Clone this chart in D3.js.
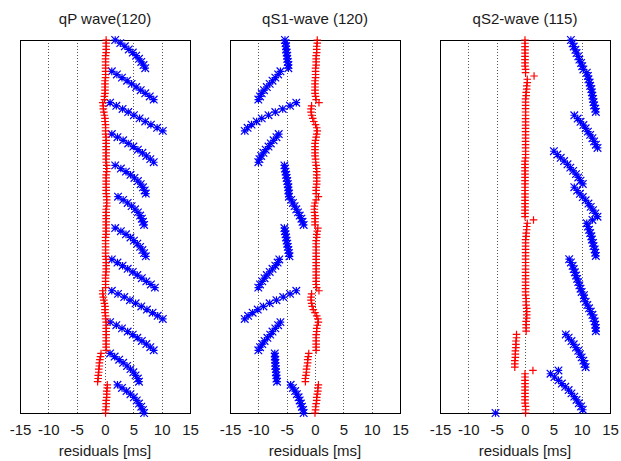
<!DOCTYPE html>
<html><head><meta charset="utf-8">
<script src="https://cdn.jsdelivr.net/npm/d3@7"></script>
<style>body{margin:0;background:#fff}svg{display:block}</style>
</head><body>
<svg id="c" width="621" height="461"></svg>
<script>
const xTicks = [-15, -10, -5, 0, 5, 10, 15];
const gridValues = [-10, -5, 0, 5, 10];
const panelTitles = ["qP wave(120)", "qS1-wave (120)", "qS2-wave (115)"];
const xLabel = "residuals [ms]";

const qpBlue = [
 1.8, 2.7, 3.5, 4.2, 4.9, 5.5, 6.0, 6.4, 6.8, 7.1,
 1.2, 2.1, 3.0, 3.9, 4.7, 5.5, 6.3, 7.1, 7.9, 8.6,
 0.9, 2.0, 3.1, 4.1, 5.1, 6.1, 7.1, 8.1, 9.2, 10.2,
 1.2, 2.2, 3.2, 4.1, 5.0, 5.8, 6.6, 7.3, 8.0, 8.6,
 1.8, 2.8, 3.7, 4.5, 5.2, 5.8, 6.3, 6.7, 7.0, 7.2,
 2.3, 3.2, 4.0, 4.7, 5.3, 5.8, 6.2, 6.5, 6.7, 6.9,
 1.8, 2.8, 3.7, 4.5, 5.1, 5.7, 6.2, 6.6, 6.9, 7.2,
 1.2, 2.2, 3.1, 4.0, 4.9, 5.7, 6.5, 7.3, 8.1, 8.8,
 1.2, 2.3, 3.4, 4.4, 5.4, 6.4, 7.4, 8.4, 9.3, 10.2,
 0.9, 2.0, 3.0, 4.0, 4.9, 5.7, 6.5, 7.3, 8.0, 8.6,
 0.9, 1.7, 2.5, 3.2, 3.9, 4.5, 5.0, 5.4, 5.8, 6.0,
 2.2, 3.0, 3.8, 4.5, 5.1, 5.6, 6.0, 6.4, 6.7, 6.9
];
const qpRed = [
 0.2, 0.2, 0.2, 0.2, 0.2, 0.1, 0.1, 0.1, 0.1, 0.1,
 0.1, 0.1, 0.1, 0.0, 0.0, 0.0, 0.0, 0.0, -0.1, -0.1,
 -0.4, -0.3, -0.3, -0.2, -0.1, 0.0, 0.0, 0.1, 0.1, 0.1,
 0.1, 0.2, 0.2, 0.2, 0.2, 0.2, 0.2, 0.2, 0.2, 0.2,
 0.3, 0.3, 0.3, 0.2, 0.2, 0.2, 0.2, 0.2, 0.2, 0.2,
 0.3, 0.3, 0.3, 0.3, 0.2, 0.2, 0.2, 0.2, 0.2, 0.2,
 0.2, 0.2, 0.2, 0.1, 0.1, 0.1, 0.1, 0.1, 0.1, 0.1,
 0.2, 0.2, 0.2, 0.2, 0.2, 0.1, 0.1, 0.1, 0.1, 0.1,
 -0.4, -0.4, -0.3, -0.2, -0.1, 0.0, 0.0, 0.0, 0.1, 0.1,
 0.2, 0.2, 0.2, 0.2, 0.2, 0.2, 0.2, 0.2, 0.2, 0.2,
 -0.7, -0.8, -0.9, -1.0, -1.0, -1.1, -1.1, -1.2, -1.2, -1.3,
 0.4, 0.4, 0.3, 0.3, 0.3, 0.2, 0.2, 0.2, 0.1, 0.1
];

const qs1Blue = [
 -5.3, -5.2, -5.1, -5.1, -5.0, -4.9, -4.9, -4.8, -4.7, -4.7,
 -6.1, -6.5, -7.0, -7.5, -8.0, -8.5, -9.0, -9.4, -9.7, -10.0,
 -3.3, -4.4, -5.7, -7.0, -8.2, -9.4, -10.3, -11.2, -11.9, -12.4,
 -6.4, -6.8, -7.3, -7.8, -8.2, -8.7, -9.1, -9.5, -9.8, -10.0,
 -5.4, -5.3, -5.2, -5.1, -5.0, -4.9, -4.8, -4.7, -4.7, -4.6,
 -4.6, -4.2, -3.9, -3.6, -3.3, -3.0, -2.7, -2.4, -2.2, -2.0,
 -5.4, -5.3, -5.2, -5.1, -5.0, -4.9, -4.8, -4.7, -4.6, -4.5,
 -6.3, -6.6, -7.0, -7.5, -8.0, -8.5, -8.9, -9.3, -9.7, -10.0,
 -3.3, -4.4, -5.6, -6.8, -8.0, -9.1, -10.1, -11.0, -11.8, -12.4,
 -6.1, -6.5, -7.0, -7.5, -7.9, -8.4, -8.9, -9.3, -9.7, -10.0,
 -7.1, -7.1, -7.0, -7.0, -7.0, -6.9, -6.9, -6.8, -6.8, -6.7,
 -4.3, -3.9, -3.5, -3.2, -2.9, -2.7, -2.5, -2.3, -2.1, -2.0
];
const qs1Red = [
 0.4, 0.4, 0.3, 0.3, 0.3, 0.2, 0.2, 0.2, 0.2, 0.1,
 0.1, 0.1, 0.1, 0.0, 0.0, 0.0, 0.0, 0.0, 0.1, 0.2,
 0.7, -0.6, -0.7, -0.7, -0.6, -0.4, -0.2, 0.1, 0.3, 0.4,
 0.3, 0.2, 0.1, 0.0, 0.0, 0.0, 0.0, 0.0, 0.1, 0.1,
 0.2, 0.3, 0.3, 0.3, 0.3, 0.3, 0.3, 0.2, 0.2, 0.2,
 0.6, 0.2, 0.0, -0.1, -0.1, -0.1, 0.0, 0.0, 0.0, 0.0,
 0.5, 0.4, 0.3, 0.3, 0.2, 0.2, 0.2, 0.2, 0.2, 0.2,
 0.2, 0.2, 0.2, 0.2, 0.2, 0.2, 0.2, 0.2, 0.2, 0.3,
 0.7, -0.6, -0.7, -0.7, -0.6, -0.5, -0.3, 0.0, 0.3, 0.5,
 0.6, 0.4, 0.3, 0.3, 0.2, 0.2, 0.2, 0.2, 0.2, 0.2,
 -1.1, -1.2, -1.3, -1.3, -1.4, -1.5, -1.5, -1.6, -1.7, -1.7,
 0.6, 0.5, 0.5, 0.4, 0.3, 0.3, 0.2, 0.1, 0.1, 0.0
];

const qs2Blue = [
 8.1, 8.4, 8.6, 8.9, 9.1, 9.4, 9.6, 9.9, 10.1, 10.3,
 10.9, 11.1, 11.2, 11.4, 11.5, 11.7, 11.8, 11.9, 12.0, 12.1, 12.2, 12.4, 12.5,
 8.7, 9.3, 9.8, 10.3, 10.7, 11.1, 11.5, 11.9, 12.2, 12.5, 12.8,
 5.1, 5.7, 6.3, 6.9, 7.5, 8.0, 8.5, 9.0, 9.4, 9.8, 10.2,
 8.7, 9.2, 9.7, 10.2, 10.7, 11.2, 11.6, 12.0, 12.4, 12.8, 11.9,
 10.9, 11.1, 11.3, 11.5, 11.7, 11.8, 12.0, 12.1, 12.3, 12.4, 12.5,
 7.8, 8.1, 8.4, 8.6, 8.8, 9.0, 9.2, 9.4, 9.6, 9.8, 10.0, 10.4,
 10.4, 10.7, 11.0, 11.3, 11.6, 11.9, 12.1, 12.3, 12.4, 12.5, 12.5,
 7.2, 7.7, 8.2, 8.6, 9.0, 9.4, 9.7, 10.0, 10.3, 10.5, 10.7,
 5.9,
 4.5, 5.2, 5.9, 6.5, 7.1, 7.7, 8.2, 8.7, 9.1, 9.5, 9.9, 10.2,
 -5.2
];
const qs2Red = [
 0.0, 0.0, 0.0, 0.0, 0.0, 0.0, 0.0, 0.0, 0.0, 0.1, 0.1,
 1.6,
 0.4, 0.4, 0.3, 0.3, 0.2, 0.2, 0.1, 0.1,
 0.1, 0.1, 0.1, 0.1, 0.1, 0.1, 0.1, 0.1, 0.1, 0.1,
 0.1, 0.1, 0.1, 0.1, 0.1, 0.1, 0.1, 0.0, 0.0, 0.0,
 0.0, 0.0, 0.0, 0.0, 0.0, 0.0, 0.0, 0.0, 0.0, 0.0,
 0.0, 0.0, 0.0, 0.0, 0.0,
 1.5,
 0.4, 0.3, 0.3, 0.2, 0.2, 0.1, 0.1, 0.1, 0.1, 0.1,
 0.1, 0.1, 0.1, 0.1, 0.1, 0.1, 0.1, 0.1, 0.1, 0.1,
 0.1, 0.1, 0.1, 0.2, 0.2, 0.2, 0.3, 0.3, 0.3, 0.3,
 0.2, 0.2, 0.2, 0.2,
 -1.5, -1.5, -1.6, -1.6, -1.6, -1.7, -1.7, -1.7, -1.8, -1.8, -1.8,
 1.4,
 0.0, 0.0, 0.0, 0.0, 0.0, 0.0, 0.0, 0.0, 0.0, 0.0, 0.1, 0.1, 0.1
];

const panels = [
  { title: panelTitles[0], blue: qpBlue, red: qpRed },
  { title: panelTitles[1], blue: qs1Blue, red: qs1Red },
  { title: panelTitles[2], blue: qs2Blue, red: qs2Red }
];

const svg = d3.select("#c");
const plotTop = 40, plotBottom = 413, plotW = 170, lefts = [20, 230, 440];
const textColor = "#1a1a1a";
const font = "'Liberation Sans', Arial, sans-serif";

panels.forEach((p, k) => {
  const left = lefts[k];
  const x = d3.scaleLinear().domain([-15, 15]).range([left, left + plotW]);
  const y = d3.scaleLinear().domain([1, p.red.length]).range([plotTop, plotBottom]);
  const g = svg.append("g");

  g.selectAll("line.grid").data(gridValues).join("line")
    .attr("class", "grid")
    .attr("x1", d => Math.round(x(d)) + 0.5).attr("x2", d => Math.round(x(d)) + 0.5)
    .attr("y1", plotTop).attr("y2", plotBottom)
    .attr("stroke", "#555").attr("stroke-width", 1).attr("stroke-dasharray", "1,2");

  g.append("rect")
    .attr("x", left + 0.5).attr("y", plotTop + 0.5)
    .attr("width", plotW).attr("height", plotBottom - plotTop)
    .attr("fill", "none").attr("stroke", "#000").attr("stroke-width", 1);

  const axis = d3.axisBottom(x).tickValues(xTicks).tickSize(0).tickPadding(11)
    .tickFormat(d3.format("d"));
  const ax = g.append("g").attr("transform", `translate(0,${plotBottom})`).call(axis);
  ax.select(".domain").remove();
  ax.selectAll("text").attr("font-family", font).attr("font-size", 15).attr("fill", textColor)
    .text(d => String(d));

  g.append("text").attr("x", left + plotW / 2).attr("y", 24)
    .attr("text-anchor", "middle").attr("font-family", font).attr("font-size", 15)
    .attr("fill", textColor).text(p.title);

  g.append("text").attr("x", left + plotW / 2).attr("y", 456)
    .attr("text-anchor", "middle").attr("font-family", font).attr("font-size", 15)
    .attr("fill", textColor).text(xLabel);

  const s = 3.8;
  const blue = g.append("g").attr("stroke", "#0000ff").attr("stroke-width", 1.2).attr("fill", "none");
  blue.selectAll("path").data(p.blue).join("path")
    .attr("d", (d, i) => {
      const cx = x(d), cy = y(i + 1);
      return `M${cx - s},${cy}H${cx + s}M${cx},${cy - s}V${cy + s}` +
             `M${cx - s},${cy - s}L${cx + s},${cy + s}M${cx - s},${cy + s}L${cx + s},${cy - s}`;
    });

  const red = g.append("g").attr("stroke", "#ff0000").attr("stroke-width", 1.2).attr("fill", "none");
  red.selectAll("path").data(p.red).join("path")
    .attr("d", (d, i) => {
      const cx = x(d), cy = y(i + 1);
      return `M${cx - s},${cy}H${cx + s}M${cx},${cy - s}V${cy + s}`;
    });
});
</script>
</body></html>
